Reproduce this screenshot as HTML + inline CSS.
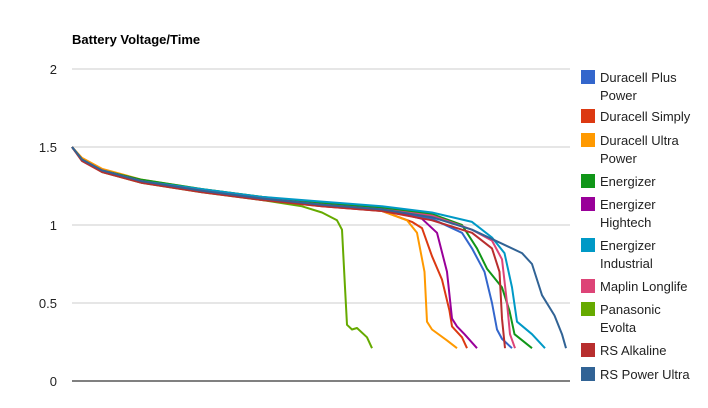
<!DOCTYPE html>
<html><head><meta charset="utf-8"><style>
body{margin:0;background:#fff;font-family:"Liberation Sans",Arial,sans-serif}
svg{display:block}
</style></head><body>
<svg id="chart" width="708" height="408" viewBox="0 0 708 408" xmlns="http://www.w3.org/2000/svg">
<text x="72" y="44" font-size="13" font-weight="bold" fill="#000">Battery Voltage/Time</text>
<g id="grid"></g><g id="series"></g><g id="legend"></g>
</svg>
<script>
const yTicks=[0,0.5,1,1.5,2];
const yTickLabels=["0","0.5","1","1.5","2"];
const seriesNames=["Duracell Plus Power","Duracell Simply","Duracell Ultra Power","Energizer","Energizer Hightech","Energizer Industrial","Maplin Longlife","Panasonic Evolta","RS Alkaline","RS Power Ultra"];
const seriesColors=["#3366cc","#dc3912","#ff9900","#109618","#990099","#0099c6","#dd4477","#66aa00","#b82e2e","#316395"];
const baseT=[0,2,6,14,26,38,50];
const plusT=baseT.concat([62,72,78,80,82.5,84,85,86,88]);
const plusV=[1.5,1.42,1.35,1.28,1.22,1.17,1.13,1.10,1.04,0.95,0.85,0.70,0.50,0.33,0.27,0.21];
const simplyT=baseT.concat([62,68,70,72,74,75.5,76,78,79]);
const simplyV=[1.5,1.42,1.35,1.28,1.22,1.16,1.12,1.09,1.02,0.98,0.80,0.65,0.45,0.35,0.28,0.21];
const ultraT=baseT.concat([62,67,69,70.5,71,72,75,77]);
const ultraV=[1.5,1.43,1.36,1.29,1.23,1.18,1.13,1.09,1.03,0.95,0.70,0.38,0.33,0.26,0.21];
const energT=baseT.concat([62,72,78,81,83,86,87.5,88.5,92]);
const energV=[1.5,1.42,1.35,1.29,1.23,1.18,1.14,1.11,1.07,1.00,0.85,0.72,0.60,0.45,0.30,0.21];
const hightT=baseT.concat([62,70,73,75,76,77,78.5,81]);
const hightV=[1.5,1.42,1.35,1.28,1.22,1.17,1.13,1.10,1.04,0.95,0.70,0.40,0.35,0.30,0.21];
const indT=baseT.concat([62,72,80,84,86.5,88,89,92,94.6]);
const indV=[1.5,1.42,1.35,1.28,1.23,1.18,1.15,1.12,1.08,1.02,0.92,0.82,0.60,0.38,0.30,0.21];
const maplinT=baseT.concat([62,72,80,84,86,87,87.6,88.6]);
const maplinV=[1.5,1.42,1.35,1.28,1.22,1.17,1.13,1.10,1.06,0.97,0.90,0.78,0.50,0.30,0.21];
const panaT=baseT.slice(0,6).concat([46,50,53,54,54.6,55,56,57,59,60]);
const panaV=[1.5,1.42,1.34,1.27,1.21,1.16,1.12,1.08,1.03,0.97,0.60,0.36,0.33,0.34,0.28,0.21];
const rsaT=baseT.concat([62,72,80,84,85.5,86,86.6]);
const rsaV=[1.5,1.41,1.34,1.27,1.21,1.16,1.12,1.09,1.03,0.95,0.85,0.70,0.40,0.21];
const rspuT=baseT.concat([62,72,80,86,90,92,94,96.5,98,98.8]);
const rspuV=[1.5,1.42,1.35,1.28,1.22,1.17,1.13,1.10,1.05,0.97,0.88,0.82,0.75,0.55,0.42,0.30,0.21];
const allT=[plusT,simplyT,ultraT,energT,hightT,indT,maplinT,panaT,rsaT,rspuT];
const allV=[plusV,simplyV,ultraV,energV,hightV,indV,maplinV,panaV,rsaV,rspuV];

const NS="http://www.w3.org/2000/svg";
const X0=72,X1=572,Y0=381,Y1=69;
const xS=t=>X0+t*(X1-X0)/100;
const yS=v=>Y0-v*(Y0-Y1)/2;
const grid=document.getElementById('grid');
yTicks.forEach((v,i)=>{
  const l=document.createElementNS(NS,'line');
  
  
  l.setAttribute('x1',X0);l.setAttribute('x2',570);
  l.setAttribute('y1',yS(v));l.setAttribute('y2',yS(v));
  l.setAttribute('stroke',v===0?'#000':'#ccc');l.setAttribute('stroke-width','1');
  grid.appendChild(l);
  const t=document.createElementNS(NS,'text');
  
  
  t.setAttribute('x',57);t.setAttribute('y',yS(v)+5);
  t.setAttribute('text-anchor','end');t.setAttribute('font-size','13');t.setAttribute('fill','#222');
  t.textContent=yTickLabels[i];grid.appendChild(t);
});
const sg=document.getElementById('series');
allT.forEach((ts,i)=>{
  const p=document.createElementNS(NS,'polyline');
  
  
  p.setAttribute('points',ts.map((t,j)=>xS(t).toFixed(1)+','+yS(allV[i][j]).toFixed(1)).join(' '));
  p.setAttribute('fill','none');p.setAttribute('stroke',seriesColors[i]);
  p.setAttribute('stroke-width','2');p.setAttribute('stroke-linejoin','round');
  sg.appendChild(p);
});
const lg=document.getElementById('legend');
const lines=[["Duracell Plus","Power"],["Duracell Simply"],["Duracell Ultra","Power"],["Energizer"],["Energizer","Hightech"],["Energizer","Industrial"],["Maplin Longlife"],["Panasonic","Evolta"],["RS Alkaline"],["RS Power Ultra"]];
const legendTop=[70,109,133,174,197,238,279,302,343,367];
lines.forEach((ls,i)=>{
  const y=legendTop[i];
  const g=document.createElementNS(NS,'g');
  
  
  const r=document.createElementNS(NS,'rect');
  r.setAttribute('x',581);r.setAttribute('y',y);r.setAttribute('width',14);r.setAttribute('height',14);
  r.setAttribute('fill',seriesColors[i]);g.appendChild(r);
  ls.forEach((s,k)=>{
    const t=document.createElementNS(NS,'text');
    t.setAttribute('x',600);t.setAttribute('y',y+12+k*18);
    t.setAttribute('font-size','13');t.setAttribute('fill','#222');
    t.textContent=s;g.appendChild(t);
  });
  lg.appendChild(g);
});
</script>
</body></html>
